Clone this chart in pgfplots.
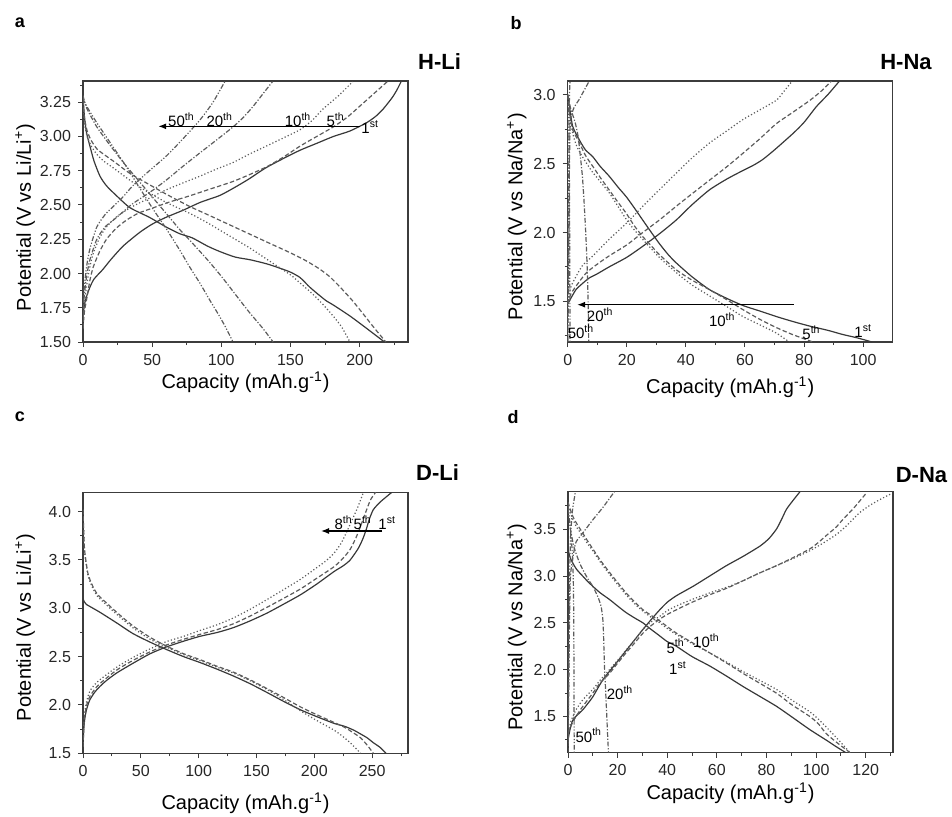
\documentclass[border=0pt]{standalone}
\usepackage{fontspec}
\setmainfont{Liberation Sans}
\usepackage{pgfplots}
\pgfplotsset{compat=1.18}
\usetikzlibrary{arrows.meta}
\definecolor{frame}{HTML}{3C3C3C}
\definecolor{cvone}{HTML}{383838}
\definecolor{cv}{HTML}{5C5C5C}
\pgfplotsset{
  panel/.style={
    scale only axis, width=162.5pt, height=130.5pt, anchor=south west,
    axis line style={frame, line width=0.6pt},
    tick pos=left, tick align=outside,
    major tick length=2.5pt, minor tick length=1.5pt,
    tick style={frame, line width=0.5pt},
    tick label style={font=\fontsize{8}{9}\selectfont, text=black!85},
    /pgf/number format/assume math mode=true,
    label style={font=\fontsize{10.5}{12}\selectfont, text=black!85},
    xlabel={Capacity (mAh.g\textsuperscript{-1})},
    clip mode=individual,
  },
  s1/.style={cvone, solid, smooth, tension=0.4, line width=0.6pt},
  s5/.style={cv, dash pattern=on 2.2pt off 1.2pt, smooth, tension=0.4, line width=0.6pt},
  s10/.style={cv, dash pattern=on 0.6pt off 1.1pt, smooth, tension=0.4, line width=0.6pt},
  s20/.style={cv, dash pattern=on 2.4pt off 0.9pt on 0.6pt off 0.9pt, smooth, tension=0.4, line width=0.6pt},
  s50/.style={cv, dash pattern=on 2.4pt off 0.9pt on 0.6pt off 0.9pt on 0.6pt off 0.9pt, smooth, tension=0.4, line width=0.6pt},
}
\newcommand{\ann}{\fontsize{7.5}{8}\selectfont}
\begin{document}
\begin{tikzpicture}
\useasboundingbox (0,0) rectangle (476pt,408pt);
% ---------------- a : H-Li
\begin{axis}[panel, at={(41.5pt,237pt)},
  xmin=0, xmax=235, ymin=1.5, ymax=3.405,
  xtick={0,50,100,150,200}, minor xtick={25,75,125,175,225},
  ytick={1.5,1.75,2,2.25,2.5,2.75,3,3.25},
  minor ytick={1.625,1.875,2.125,2.375,2.625,2.875,3.125,3.375},
  yticklabel style={/pgf/number format/.cd, fixed, fixed zerofill, precision=2},
  ylabel={Potential (V vs Li/Li\textsuperscript{+})},
  every axis x label/.style={at={(axis description cs:0.5,-0.153)}, anchor=center},
  every axis y label/.style={at={(axis description cs:-0.178,0.477)}, rotate=90, anchor=center},
]
\addplot[s1] coordinates {(0,1.60)(0.3,1.70)(1,1.77)(2.5,1.83)(5,1.90)(8,1.96)(14.4,2.03)(20,2.10)(29,2.20)(41,2.30)(50,2.36)(60,2.41)(72,2.46)(85,2.52)(99,2.57)(110,2.63)(120,2.69)(132,2.77)(145,2.84)(157,2.90)(169,2.95)(181,3.00)(193,3.04)(205,3.10)(212,3.15)(217,3.20)(221,3.25)(224,3.29)(227,3.34)(230,3.40)};
\addplot[s1] coordinates {(0,3.30)(1,3.15)(2.5,3.03)(5,2.93)(8,2.82)(12.3,2.71)(17,2.64)(24,2.57)(34,2.48)(48,2.41)(60,2.34)(70,2.29)(79,2.26)(90,2.20)(99,2.16)(110,2.12)(121,2.10)(133,2.07)(142,2.04)(150,2.01)(157,1.97)(164,1.90)(171,1.84)(176,1.80)(181,1.77)(193,1.69)(205,1.60)(218,1.50)};
\addplot[s5] coordinates {(0,1.60)(1,1.72)(2.6,1.81)(5,1.95)(7.5,2.05)(12,2.16)(17,2.25)(24,2.33)(31.5,2.39)(40,2.44)(51,2.48)(62,2.52)(75,2.56)(90,2.61)(108,2.67)(120,2.72)(133,2.78)(145,2.85)(157,2.93)(169,3.00)(181,3.07)(191,3.14)(200,3.22)(210,3.31)(220,3.40)};
\addplot[s5] coordinates {(0,3.26)(1,3.14)(3,3.04)(6,2.97)(10,2.91)(15,2.87)(22,2.82)(34,2.73)(46,2.66)(60,2.58)(77,2.49)(90,2.43)(105,2.36)(120,2.29)(135,2.22)(148,2.16)(160,2.10)(170,2.04)(178,1.98)(186,1.90)(195,1.80)(203,1.70)(210,1.61)(219,1.50)};
\addplot[s10] coordinates {(0,1.60)(0.8,1.75)(2.6,1.91)(5,2.05)(7.5,2.15)(12,2.26)(17,2.34)(25,2.42)(36,2.49)(48,2.55)(60,2.61)(72,2.66)(84.5,2.71)(96,2.76)(108.5,2.81)(120,2.87)(132.6,2.93)(145,2.99)(157,3.05)(166,3.12)(173.5,3.20)(185,3.30)(195,3.40)};
\addplot[s10] coordinates {(0,3.22)(1,3.10)(3,3.00)(6,2.93)(10,2.87)(15,2.82)(22,2.77)(34,2.68)(46,2.60)(60,2.52)(77,2.44)(90,2.37)(105,2.28)(120,2.19)(135,2.09)(150,1.99)(157,1.93)(165,1.86)(172,1.79)(180,1.70)(187,1.61)(193,1.50)};
\addplot[s20] coordinates {(0,1.60)(0.6,1.80)(2.6,1.98)(5,2.10)(10,2.25)(16,2.34)(22,2.39)(29,2.45)(36,2.51)(48,2.59)(60,2.68)(72,2.78)(84.5,2.88)(96,2.97)(108.5,3.07)(116,3.14)(123,3.22)(130,3.31)(137,3.40)};
\addplot[s20] coordinates {(0,3.28)(3,3.20)(10,3.07)(20,2.93)(30,2.80)(40,2.68)(50,2.56)(60,2.44)(70,2.32)(77,2.245)(90,2.10)(100,1.98)(110,1.85)(120,1.72)(130,1.60)(137.5,1.50)};
\addplot[s50] coordinates {(0,1.60)(0.5,1.85)(2.6,2.05)(5,2.18)(10,2.34)(16,2.43)(22,2.49)(29,2.56)(36,2.64)(48,2.75)(60,2.855)(72,2.98)(84.5,3.12)(94,3.25)(102.5,3.40)};
\addplot[s50] coordinates {(0,3.30)(1,3.26)(2.7,3.22)(10,3.10)(20,2.95)(30,2.80)(40,2.64)(50,2.48)(60,2.33)(70,2.17)(77,2.05)(84.5,1.93)(92,1.80)(98,1.70)(103,1.61)(108.5,1.50)};
\draw[-{Latex[length=4pt,width=3pt]}, line width=0.6pt] (axis cs:200,3.074) -- (axis cs:54.4,3.074);
\node[font=\ann] at (axis cs:71.2,3.123) {50\textsuperscript{th}};
\node[font=\ann] at (axis cs:98.9,3.123) {20\textsuperscript{th}};
\node[font=\ann] at (axis cs:155.5,3.123) {10\textsuperscript{th}};
\node[font=\ann] at (axis cs:182.7,3.123) {5\textsuperscript{th}};
\node[font=\ann] at (axis cs:207.7,3.07) {1\textsuperscript{st}};
\end{axis}
% ---------------- b : H-Na
\begin{axis}[panel, at={(283.85pt,237pt)},
  xmin=0, xmax=110, ymin=1.205, ymax=3.1,
  xtick={0,20,40,60,80,100}, minor xtick={10,30,50,70,90},
  ytick={1.5,2,2.5,3}, minor ytick={1.25,1.75,2.25,2.75},
  yticklabel style={/pgf/number format/.cd, fixed, fixed zerofill, precision=1},
  ylabel={Potential (V vs Na/Na\textsuperscript{+})},
  every axis x label/.style={at={(axis description cs:0.5,-0.172)}, anchor=center},
  every axis y label/.style={at={(axis description cs:-0.157,0.48)}, rotate=90, anchor=center},
]
\addplot[s1] coordinates {(0,1.48)(1,1.52)(2.8,1.585)(5,1.63)(7.3,1.67)(10,1.70)(14,1.75)(20,1.82)(25.4,1.90)(31,1.99)(36.7,2.09)(42,2.20)(48,2.31)(54,2.39)(59.3,2.45)(63,2.49)(66,2.53)(70,2.60)(76.3,2.72)(80,2.80)(84.2,2.915)(88,3.00)(92,3.10)};
\addplot[s1] coordinates {(0,3.00)(0.7,2.90)(1.7,2.77)(4,2.67)(6,2.60)(8.5,2.55)(11,2.48)(14,2.41)(17,2.33)(19.8,2.26)(22.5,2.18)(25.4,2.09)(28,2.01)(31,1.92)(34,1.84)(36.7,1.78)(42,1.68)(48,1.585)(54,1.52)(59.3,1.47)(65,1.43)(70.6,1.39)(76,1.355)(82,1.32)(88,1.29)(93,1.26)(98,1.235)(103,1.205)};
\addplot[s5] coordinates {(0,1.48)(1,1.55)(2.8,1.61)(6.2,1.705)(10,1.77)(14,1.83)(20,1.91)(25.4,2.00)(31,2.09)(36.7,2.19)(42,2.28)(48,2.38)(54,2.48)(59.3,2.575)(65,2.68)(70.6,2.79)(76,2.87)(82,2.96)(86,3.03)(89.3,3.10)};
\addplot[s5] coordinates {(0,3.00)(0.8,2.85)(1.7,2.745)(4,2.65)(6,2.56)(8.5,2.48)(11,2.40)(14,2.31)(17,2.22)(19.8,2.14)(22.5,2.05)(25.4,1.97)(28,1.91)(31,1.84)(36.7,1.73)(42,1.655)(48,1.585)(54,1.51)(59.3,1.44)(65,1.37)(70.6,1.31)(76,1.26)(83,1.205)};
\addplot[s10] coordinates {(0,1.48)(1,1.60)(2.8,1.68)(5,1.76)(8.5,1.83)(14,1.95)(20,2.07)(25.4,2.19)(31,2.31)(36.7,2.43)(42,2.54)(48,2.65)(54,2.74)(59.3,2.82)(65,2.89)(70.6,2.96)(73,3.02)(76,3.10)};
\addplot[s10] coordinates {(0,3.00)(0.8,2.85)(1.7,2.72)(3,2.63)(5,2.55)(8,2.45)(11,2.37)(14,2.29)(17,2.19)(20,2.09)(22.5,2.02)(25.4,1.95)(31,1.82)(36.7,1.71)(42,1.62)(48,1.54)(54,1.46)(59.3,1.39)(65,1.33)(70.6,1.27)(75,1.205)};
\addplot[s20] coordinates {(0,1.205)(0.2,1.50)(0.4,2.00)(0.6,2.50)(0.9,2.80)(2,2.90)(4,2.97)(5.5,3.03)(7.3,3.10)};
\addplot[s20] coordinates {(0,3.00)(1,2.90)(2.5,2.80)(3.5,2.70)(4.3,2.55)(5,2.40)(5.6,2.20)(6.1,2.00)(6.5,1.80)(6.8,1.60)(7.0,1.40)(7.1,1.205)};
\addplot[s50] coordinates {(0,1.205)(0.15,1.6)(0.3,2.2)(0.45,2.7)(0.6,3.0)(0.8,3.1)};
\addplot[s50] coordinates {(0,3.0)(0.4,2.8)(0.6,2.3)(0.7,1.8)(0.75,1.4)(0.8,1.205)};
\draw[-{Latex[length=4pt,width=3pt]}, line width=0.6pt] (axis cs:76.5,1.476) -- (axis cs:3.2,1.476);
\node[font=\ann] at (axis cs:11,1.403) {20\textsuperscript{th}};
\node[font=\ann] at (axis cs:4.5,1.282) {50\textsuperscript{th}};
\node[font=\ann] at (axis cs:52.3,1.367) {10\textsuperscript{th}};
\node[font=\ann] at (axis cs:82.5,1.27) {5\textsuperscript{th}};
\node[font=\ann] at (axis cs:100,1.282) {1\textsuperscript{st}};
\end{axis}
% ---------------- c : D-Li
\begin{axis}[panel, at={(41.5pt,31.35pt)},
  xmin=0, xmax=281, ymin=1.5, ymax=4.2,
  xtick={0,50,100,150,200,250}, minor xtick={25,75,125,175,225,275},
  ytick={1.5,2,2.5,3,3.5,4}, minor ytick={1.75,2.25,2.75,3.25,3.75},
  yticklabel style={/pgf/number format/.cd, fixed, fixed zerofill, precision=1},
  ylabel={Potential (V vs Li/Li\textsuperscript{+})},
  every axis x label/.style={at={(axis description cs:0.5,-0.19)}, anchor=center},
  every axis y label/.style={at={(axis description cs:-0.178,0.482)}, rotate=90, anchor=center},
]
\addplot[s1] coordinates {(0,1.57)(0.7,1.75)(1.4,1.845)(3,1.95)(5.8,2.05)(10,2.13)(14.5,2.19)(20,2.25)(29,2.33)(43,2.43)(58,2.53)(72,2.60)(87,2.66)(101,2.71)(116,2.75)(130,2.80)(144.5,2.87)(159,2.95)(173,3.04)(188,3.14)(202,3.25)(217,3.38)(225,3.44)(231,3.50)(238,3.62)(242,3.72)(245,3.82)(247.5,3.92)(251,4.02)(257,4.10)(267,4.20)};
\addplot[s1] coordinates {(0,3.10)(1,3.07)(3,3.04)(5.8,3.02)(14.5,2.96)(29,2.85)(43,2.74)(58,2.65)(72,2.575)(87,2.50)(101,2.44)(116,2.37)(130,2.30)(144.5,2.22)(159,2.13)(173,2.04)(188,1.95)(202,1.88)(217,1.81)(226,1.78)(234,1.74)(240,1.70)(245.7,1.66)(251,1.61)(257,1.56)(262,1.50)};
\addplot[s5] coordinates {(0,1.57)(0.7,1.78)(1.4,1.88)(3,1.99)(5.8,2.085)(10,2.16)(14.5,2.22)(29,2.36)(43,2.46)(58,2.55)(72,2.62)(87,2.68)(101,2.73)(116,2.78)(130,2.84)(144.5,2.92)(159,3.01)(173,3.10)(188,3.20)(202,3.31)(217,3.43)(225,3.52)(231,3.61)(236,3.73)(240,3.85)(244,3.98)(248.5,4.12)(253,4.20)};
\addplot[s5] coordinates {(0,4.02)(0.5,3.85)(1.4,3.60)(4.3,3.36)(8,3.24)(11.6,3.16)(14.5,3.12)(29,2.96)(43,2.82)(58,2.70)(72,2.61)(87,2.53)(101,2.47)(116,2.40)(130,2.34)(144.5,2.26)(159,2.17)(173,2.08)(188,1.98)(202,1.90)(217,1.82)(226,1.77)(234,1.71)(240,1.66)(246,1.58)(251,1.50)};
\addplot[s10] coordinates {(0,1.57)(0.7,1.80)(1.4,1.91)(3,2.03)(5.8,2.14)(10,2.21)(14.5,2.26)(29,2.39)(43,2.49)(58,2.58)(72,2.655)(87,2.71)(101,2.77)(116,2.83)(130,2.90)(144.5,2.99)(159,3.09)(173,3.19)(188,3.30)(202,3.42)(210,3.49)(217,3.57)(223,3.67)(228,3.79)(232.5,3.91)(237,4.03)(242.5,4.20)};
\addplot[s10] coordinates {(0,4.02)(0.5,3.85)(1.4,3.58)(4.3,3.34)(8,3.22)(11.6,3.14)(14.5,3.10)(29,2.94)(43,2.80)(58,2.68)(72,2.60)(87,2.52)(101,2.46)(116,2.39)(130,2.33)(144.5,2.25)(159,2.16)(173,2.06)(188,1.94)(202,1.84)(217,1.74)(224,1.68)(231,1.61)(236,1.55)(240,1.50)};
\draw[-{Latex[length=4pt,width=3pt]}, line width=0.6pt] (axis cs:258.7,3.80) -- (axis cs:205.8,3.80);
\node[font=\ann] at (axis cs:225.4,3.88) {8\textsuperscript{th}};
\node[font=\ann] at (axis cs:241.9,3.88) {5\textsuperscript{th}};
\node[font=\ann] at (axis cs:263,3.88) {1\textsuperscript{st}};
\end{axis}
% ---------------- d : D-Na
\begin{axis}[panel, at={(284pt,31.65pt)},
  xmin=0, xmax=131, ymin=1.114, ymax=3.9,
  xtick={0,20,40,60,80,100,120}, minor xtick={10,30,50,70,90,110,130},
  ytick={1.5,2,2.5,3,3.5}, minor ytick={1.25,1.75,2.25,2.75,3.25,3.75},
  yticklabel style={/pgf/number format/.cd, fixed, fixed zerofill, precision=1},
  ylabel={Potential (V vs Na/Na\textsuperscript{+})},
  every axis x label/.style={at={(axis description cs:0.5,-0.154)}, anchor=center},
  every axis y label/.style={at={(axis description cs:-0.158,0.481)}, rotate=90, anchor=center},
]
\addplot[s1] coordinates {(0,1.25)(0.8,1.36)(1.9,1.46)(3.5,1.51)(5.9,1.57)(8,1.64)(10,1.71)(14,1.89)(19.4,2.07)(24.8,2.25)(30.2,2.43)(34,2.55)(37,2.64)(40,2.72)(43.7,2.79)(50.4,2.89)(57.1,3.00)(63.8,3.11)(70.6,3.21)(77.4,3.32)(81,3.40)(84,3.50)(86,3.60)(88,3.71)(90.5,3.80)(93.5,3.90)};
\addplot[s1] coordinates {(0,3.29)(0.8,3.20)(1.9,3.14)(3.5,3.07)(5.9,3.00)(8,2.94)(10,2.89)(13,2.82)(16.7,2.75)(20,2.68)(23.4,2.61)(27,2.55)(30.2,2.50)(33,2.44)(37,2.36)(40,2.30)(43.7,2.25)(50,2.14)(57.1,2.04)(64,1.93)(70.6,1.82)(77,1.72)(84,1.61)(90,1.50)(97.5,1.36)(104,1.25)(108,1.18)(112,1.114)};
\addplot[s5] coordinates {(0,1.32)(1.2,1.40)(3.2,1.50)(6,1.61)(10,1.75)(13,1.86)(16.7,1.96)(20,2.07)(23.4,2.18)(27,2.29)(30.2,2.39)(33.5,2.47)(37,2.54)(40,2.59)(43.7,2.64)(50,2.72)(57.1,2.80)(64,2.87)(70.6,2.95)(77,3.03)(84,3.11)(91,3.20)(97.5,3.29)(101,3.36)(104,3.43)(108,3.52)(111,3.61)(115,3.72)(120.4,3.89)};
\addplot[s5] coordinates {(0,3.79)(0.8,3.72)(1.9,3.64)(3.5,3.56)(5.9,3.46)(8,3.37)(10,3.29)(13,3.17)(16.7,3.04)(20,2.93)(23.4,2.82)(27,2.72)(30.2,2.64)(33.5,2.58)(37,2.52)(40,2.46)(43.7,2.39)(50,2.29)(57.1,2.18)(64,2.07)(70.6,1.96)(77,1.86)(84,1.75)(90,1.63)(97.5,1.50)(101,1.42)(104,1.32)(108,1.23)(113.7,1.114)};
\addplot[s10] coordinates {(0,1.30)(1.2,1.45)(3.2,1.57)(6,1.68)(10,1.79)(13,1.89)(16.7,2.00)(20,2.10)(23.4,2.21)(27,2.32)(30.2,2.43)(33.5,2.51)(37,2.57)(40,2.63)(43.7,2.68)(50,2.75)(57.1,2.82)(64,2.88)(70.6,2.95)(77,3.03)(84,3.11)(91,3.19)(97.5,3.27)(104,3.37)(108.5,3.45)(112,3.53)(115,3.61)(117.7,3.68)(122,3.76)(126,3.82)(130,3.875)};
\addplot[s10] coordinates {(0,3.75)(0.8,3.68)(1.9,3.61)(3.5,3.52)(5.9,3.43)(8,3.34)(10,3.27)(13,3.15)(16.7,3.02)(20,2.91)(23.4,2.80)(27,2.70)(30.2,2.625)(33.5,2.56)(37,2.50)(40,2.44)(43.7,2.375)(50,2.28)(57.1,2.18)(64,2.08)(70.6,1.98)(77,1.89)(84,1.79)(90,1.68)(97.5,1.55)(101,1.47)(104,1.39)(108,1.28)(113.7,1.114)};
\addplot[s20] coordinates {(0,1.20)(0.3,1.80)(0.6,2.50)(1.0,3.00)(2,3.20)(3.2,3.36)(6,3.46)(10,3.60)(14,3.73)(18.7,3.90)};
\addplot[s20] coordinates {(0,3.72)(1,3.50)(2.5,3.30)(5,3.12)(8,2.97)(10,2.89)(12,2.78)(13.3,2.68)(14,2.55)(14.3,2.39)(14.7,2.04)(15.3,1.70)(15.8,1.40)(16.3,1.114)};
\addplot[s50] coordinates {(0,1.114)(0.2,1.6)(0.4,2.3)(0.6,2.9)(1.0,3.4)(1.8,3.7)(3.0,3.9)};
\addplot[s50] coordinates {(0,3.75)(0.8,3.55)(1.6,3.30)(2.1,3.0)(2.3,2.6)(2.4,2.0)(2.45,1.5)(2.5,1.114)};
\node[font=\ann] at (axis cs:43.4,2.25) {5\textsuperscript{th}};
\node[font=\ann] at (axis cs:55.8,2.31) {10\textsuperscript{th}};
\node[font=\ann] at (axis cs:44.3,2.02) {1\textsuperscript{st}};
\node[font=\ann] at (axis cs:21,1.75) {20\textsuperscript{th}};
\node[font=\ann] at (axis cs:8.4,1.30) {50\textsuperscript{th}};
\end{axis}
% ---------------- panel letters and titles
\node[font=\fontsize{9}{10}\selectfont\bfseries] at (10pt,396.5pt) {a};
\node[font=\fontsize{9}{10}\selectfont\bfseries] at (258pt,396.5pt) {b};
\node[font=\fontsize{9}{10}\selectfont\bfseries] at (10pt,199.5pt) {c};
\node[font=\fontsize{9}{10}\selectfont\bfseries] at (256.5pt,199.5pt) {d};
\node[font=\fontsize{11}{12}\selectfont\bfseries] at (219.75pt,377pt) {H-Li};
\node[font=\fontsize{11}{12}\selectfont\bfseries] at (453pt,377pt) {H-Na};
\node[font=\fontsize{11}{12}\selectfont\bfseries] at (218.75pt,171.75pt) {D-Li};
\node[font=\fontsize{11}{12}\selectfont\bfseries] at (460.75pt,170.5pt) {D-Na};
\end{tikzpicture}
\end{document}
